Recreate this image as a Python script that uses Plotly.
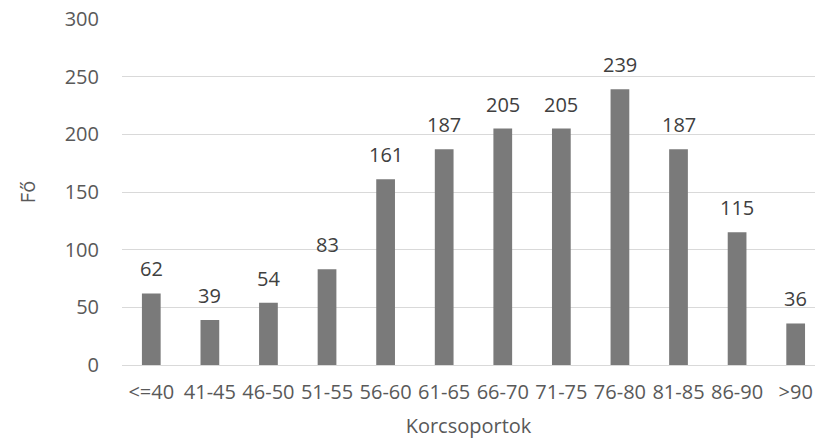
import plotly.graph_objects as go

# Age groups and headcount per group
korcsoportok = ["<=40", "41-45", "46-50", "51-55", "56-60", "61-65",
                "66-70", "71-75", "76-80", "81-85", "86-90", ">90"]
fo = [62, 39, 54, 83, 161, 187, 205, 205, 239, 187, 115, 36]
y_ticks = [0, 50, 100, 150, 200, 250, 300]

FONT = "Open Sans"
TEXT_COLOR = "#595959"
BAR_COLOR = "#7a7a7a"
GRID_COLOR = "#d9d9d9"

fig = go.Figure(
    go.Bar(
        x=list(range(len(korcsoportok))),
        y=fo,
        marker=dict(color=BAR_COLOR, line=dict(width=0)),
        width=0.32,
        hoverinfo="skip",
    )
)

# value labels above each bar
for i, v in enumerate(fo):
    fig.add_annotation(
        x=i, y=v, text=str(v), showarrow=False,
        yanchor="bottom", yshift=9,
        font=dict(family=FONT, size=20, color="#404040"),
    )

fig.update_layout(
    width=815, height=446,
    margin=dict(l=122, r=0, t=19, b=81),
    paper_bgcolor="white", plot_bgcolor="white",
    showlegend=False,
    font=dict(family=FONT, size=20, color=TEXT_COLOR),
    xaxis=dict(
        tickmode="array",
        tickvals=list(range(len(korcsoportok))),
        ticktext=korcsoportok,
        range=[-0.5, 11.33],
        showgrid=False, zeroline=False,
        showline=True, linecolor=GRID_COLOR, linewidth=1,
        ticks="", ticklabelstandoff=9,
        tickfont=dict(family=FONT, size=20, color=TEXT_COLOR),
        title=dict(text="Korcsoportok", standoff=14,
                   font=dict(family=FONT, size=20, color=TEXT_COLOR)),
        fixedrange=True,
    ),
    yaxis=dict(
        range=[0, 300],
        tickvals=y_ticks,
        showgrid=True, gridcolor=GRID_COLOR, gridwidth=1,
        zeroline=False, showline=False,
        ticks="", ticklabelstandoff=22,
        tickfont=dict(family=FONT, size=20, color=TEXT_COLOR),
        title=dict(text="Fő", standoff=23,
                   font=dict(family=FONT, size=20, color=TEXT_COLOR)),
        fixedrange=True,
    ),
)

fig.write_html("out.html", config={"displayModeBar": False})
